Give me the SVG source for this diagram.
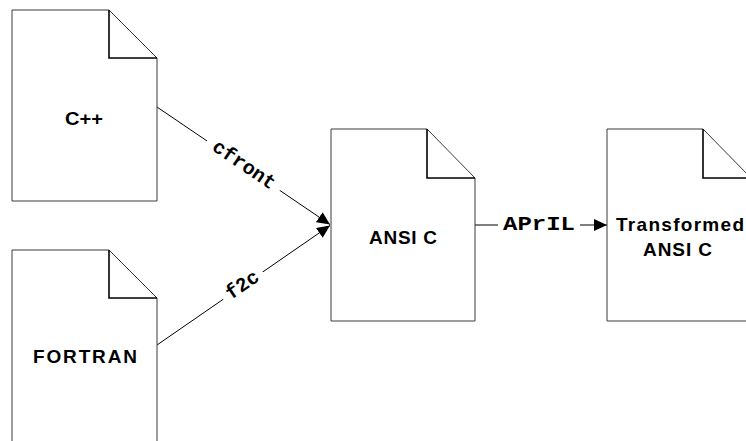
<svg xmlns="http://www.w3.org/2000/svg" width="746" height="441" viewBox="0 0 746 441">
<defs>
<style>
.doc{fill:#fff;stroke:#3a3a3a;stroke-width:1}
.fold{fill:none;stroke:#000;stroke-width:1.6}
.nl{font-family:"Liberation Sans",Arial,sans-serif;font-weight:bold;font-size:19px;fill:#000}
.el{font-family:"Liberation Mono","Courier New",monospace;font-weight:bold;font-size:20px;fill:#000}
.conn{stroke:#000;stroke-width:1;fill:none}
.bg{fill:#fff}
</style>
<marker id="arr" markerUnits="userSpaceOnUse" markerWidth="14" markerHeight="12" refX="13" refY="6" orient="auto">
<path d="M0,0 L13,6 L0,12 Z" fill="#000"/>
</marker>
</defs>
<rect width="746" height="441" fill="#fff"/>
<g id="connectors">
<line class="conn" x1="157" y1="107" x2="330" y2="224.5" marker-end="url(#arr)"/>
<line class="conn" x1="157" y1="345" x2="330" y2="225.5" marker-end="url(#arr)"/>
<line class="conn" x1="475" y1="225" x2="607" y2="225" marker-end="url(#arr)"/>
<g transform="translate(243.5,165.6) rotate(34.14)">
<rect class="bg" x="-44" y="-9" width="88" height="18"/>
<text class="el" x="-36" y="5" textLength="72" lengthAdjust="spacingAndGlyphs">cfront</text>
</g>
<g transform="translate(243,285.7) rotate(-34.6)">
<rect class="bg" x="-24" y="-9" width="48" height="18"/>
<text class="el" x="-18" y="5" textLength="36" lengthAdjust="spacingAndGlyphs">f2c</text>
</g>
<rect class="bg" x="498" y="214" width="82" height="20"/>
<text class="el" x="503" y="230" textLength="72" lengthAdjust="spacingAndGlyphs">APrIL</text>
</g>
<g id="cpp">
<path class="doc" d="M12,10 H109 L157,58 V201 H12 Z"/>
<path class="fold" d="M109,10 V58 H157"/>
<text class="nl" x="65" y="125" textLength="38" lengthAdjust="spacingAndGlyphs">C++</text>
</g>
<g id="fortran">
<path class="doc" d="M12,250 H109 L157,298 V446 H12 Z"/>
<path class="fold" d="M109,250 V298 H157"/>
<text class="nl" x="33" y="363" textLength="104" lengthAdjust="spacing">FORTRAN</text>
</g>
<g id="ansic">
<path class="doc" d="M331,129 H427 L475,178 V321 H331 Z"/>
<path class="fold" d="M427,129 V178 H475"/>
<text class="nl" x="369" y="244" textLength="68" lengthAdjust="spacing">ANSI C</text>
</g>
<g id="transformed">
<path class="doc" d="M607,129 H703 L751,178 V321 H607 Z"/>
<path class="fold" d="M703,129 V178 H751"/>
<text class="nl" x="616" y="231" textLength="128" lengthAdjust="spacing">Transformed</text>
<text class="nl" x="643" y="256" textLength="69" lengthAdjust="spacing">ANSI C</text>
</g>
</svg>
